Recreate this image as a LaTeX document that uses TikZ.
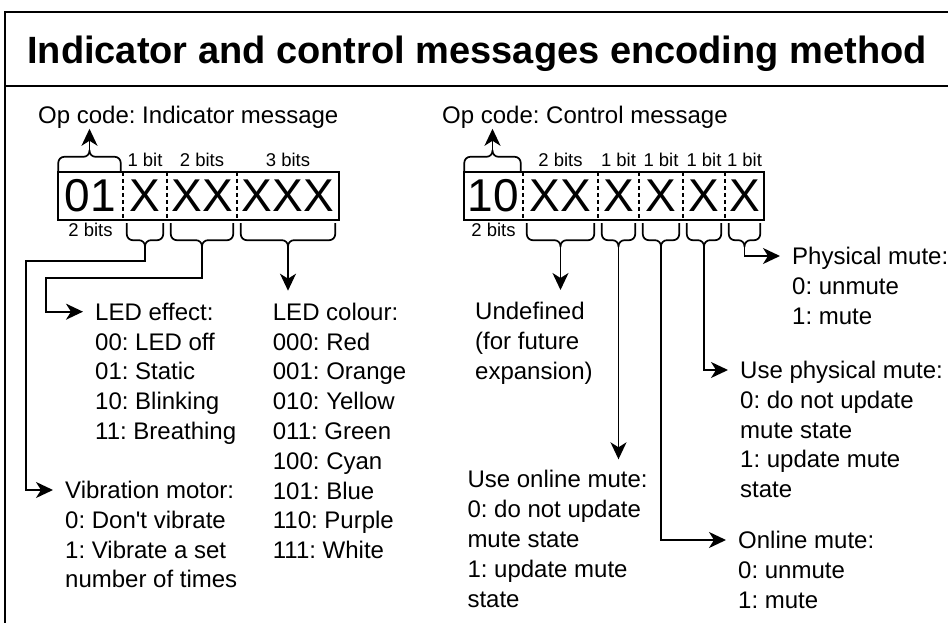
\documentclass[tikz,border=0pt]{standalone}
\usepackage{fontspec}
\setmainfont{Liberation Sans}
\frenchspacing
\usetikzlibrary{arrows.meta, positioning}

% curly brace under a bit cell, tip coordinate named #1
\newcommand{\bracebelow}[2]{%
  \coordinate (#1-l) at ([xshift=4pt,yshift=-3pt]#2.south west);
  \coordinate (#1-r) at ([xshift=-4pt,yshift=-3pt]#2.south east);
  \coordinate (#1) at ([yshift=-27pt]#2.south);
  \draw[brace] (#1-l) -- ([yshift=-17pt]#1-l) -- ([yshift=7pt]#1) -- (#1)
               (#1-r) -- ([yshift=-17pt]#1-r) -- ([yshift=7pt]#1) -- (#1);
}
% curly brace over the op code cell
\newcommand{\braceabove}[2]{%
  \coordinate (#1-l) at ([xshift=0.5pt]#2.north west);
  \coordinate (#1-r) at ([xshift=-2.5pt]#2.north east);
  \coordinate (#1) at ([xshift=-1pt,yshift=22pt]#2.north);
  \draw[brace] (#1-l) -- ([yshift=15pt]#1-l) -- ([yshift=-7pt]#1) -- (#1)
               (#1-r) -- ([yshift=15pt]#1-r) -- ([yshift=-7pt]#1) -- (#1);
}

\begin{document}
\begin{tikzpicture}[
    x=1pt, y=-1pt,
    >={Stealth[length=17pt, width=16pt, inset=5pt]},
    frame/.style={draw=black, line width=1.7pt},
    cell/.style={rectangle, minimum height=48pt, inner sep=0pt, font=\fontsize{46}{46}\selectfont},
    divider/.style={draw=black, line width=1.5pt, dash pattern=on 4pt off 3pt},
    bits/.style={inner sep=1pt, font=\fontsize{18.5}{22}\selectfont},
    txt/.style={anchor=north west, align=left, inner xsep=12pt, inner ysep=0pt, font=\fontsize{24}{29.8}\selectfont},
    brace/.style={draw=black, line width=1.7pt, rounded corners=6pt},
    arrow/.style={->, draw=black, line width=1.7pt}
]
\useasboundingbox (0,0) rectangle (948,623);

% ==================== Frame and title ====================
\draw[frame] (5,640) -- (5,12) -- (960,12);
\draw[frame] (5,86) -- (960,86);
\node[anchor=base, inner sep=0pt, font=\fontsize{38}{44}\selectfont\bfseries] (title) at (477,64) {Indicator and control messages encoding method};

% ==================== Indicator message (left) ====================
\node[txt] (opi) at (26,106) {Op code: Indicator message};

\node[cell, minimum width=65pt] (i0) at (90.5,196) {01};
\node[cell, minimum width=44pt] (i1) at (145,196) {X};
\node[cell, minimum width=70pt] (i2) at (202,196) {XX};
\node[cell, minimum width=102pt] (i3) at (288,196) {XXX};
\draw[frame] (i0.north west) rectangle (i3.south east);
\draw[divider] (i1.north west) -- (i1.south west);
\draw[divider] (i2.north west) -- (i2.south west);
\draw[divider] (i3.north west) -- (i3.south west);

\node[bits, below=2pt of i0] (i0b) {2 bits};
\node[bits, above=4pt of i1] (i1b) {1 bit};
\node[bits, above=4pt of i2] (i2b) {2 bits};
\node[bits, above=4pt of i3] (i3b) {3 bits};

\braceabove{bo1}{i0}
\bracebelow{bi1}{i1}
\bracebelow{bi2}{i2}
\bracebelow{bi3}{i3}

\node[txt] (eff) at (83,302.7) {LED effect:\\00: LED off\\01: Static\\10: Blinking\\11: Breathing};
\node[txt] (col) at (260.7,302.7) {LED colour:\\000: Red\\001: Orange\\010: Yellow\\011: Green\\100: Cyan\\101: Blue\\110: Purple\\111: White};
\node[txt] (vib) at (53,481) {Vibration motor:\\0: Don\textquotesingle t vibrate\\1: Vibrate a set\\number of times};

% Indicator connections
\draw[arrow] (bo1) -- (bo1 |- opi.south);
\draw[arrow] (bi1) -- ++(0,14) -- ++(-119,0) |- ([yshift=-9pt]vib.north west);
\draw[arrow] (bi2) -- ++(0,31) -- ++(-156,0) |- ([yshift=-9pt]eff.north west);
\draw[arrow, shorten >=12pt] (bi3) -- (bi3 |- col.north);

% ==================== Control message (right) ====================
\node[txt] (opc) at (430,106) {Op code: Control message};

\node[cell, minimum width=59pt] (c0) at (493.5,196) {10};
\node[cell, minimum width=75pt] (c1) at (560.5,196) {XX};
\node[cell, minimum width=41pt] (c2) at (618.5,196) {X};
\node[cell, minimum width=44pt] (c3) at (661,196) {X};
\node[cell, minimum width=42pt] (c4) at (704,196) {X};
\node[cell, minimum width=39pt] (c5) at (744.5,196) {X};
\draw[frame] (c0.north west) rectangle (c5.south east);
\draw[divider] (c1.north west) -- (c1.south west);
\draw[divider] (c2.north west) -- (c2.south west);
\draw[divider] (c3.north west) -- (c3.south west);
\draw[divider] (c4.north west) -- (c4.south west);
\draw[divider] (c5.north west) -- (c5.south west);

\node[bits, below=2pt of c0] (c0b) {2 bits};
\node[bits, above=4pt of c1] (c1b) {2 bits};
\node[bits, above=4pt of c2] (c2b) {1 bit};
\node[bits, above=4pt of c3] (c3b) {1 bit};
\node[bits, above=4pt of c4] (c4b) {1 bit};
\node[bits, above=4pt of c5] (c5b) {1 bit};

\braceabove{bo2}{c0}
\bracebelow{bc1}{c1}
\bracebelow{bc2}{c2}
\bracebelow{bc3}{c3}
\bracebelow{bc4}{c4}
\bracebelow{bc5}{c5}

\node[txt] (und) at (463,302) {Undefined\\(for future\\expansion)};
\node[txt] (uom) at (455.3,470.3) {Use online mute:\\0: do not update\\mute state\\1: update mute\\state};
\node[txt] (om) at (726,531) {Online mute:\\0: unmute\\1: mute};
\node[txt] (upm) at (728,361) {Use physical mute:\\0: do not update\\mute state\\1: update mute\\state};
\node[txt] (pm) at (780,247) {Physical mute:\\0: unmute\\1: mute};

% Control connections
\draw[arrow] (bo2) -- (bo2 |- opc.south);
\draw[arrow, shorten >=12pt] (bc1) -- (bc1 |- und.north);
\draw[arrow, shorten >=11pt] (bc2) -- (bc2 |- uom.north);
\draw[arrow] (bc3) |- ([yshift=-9pt]om.north west);
\draw[arrow] (bc4) |- ([yshift=-9pt]upm.north west);
\draw[arrow] (bc5) |- ([yshift=-9pt]pm.north west);

\end{tikzpicture}
\end{document}
